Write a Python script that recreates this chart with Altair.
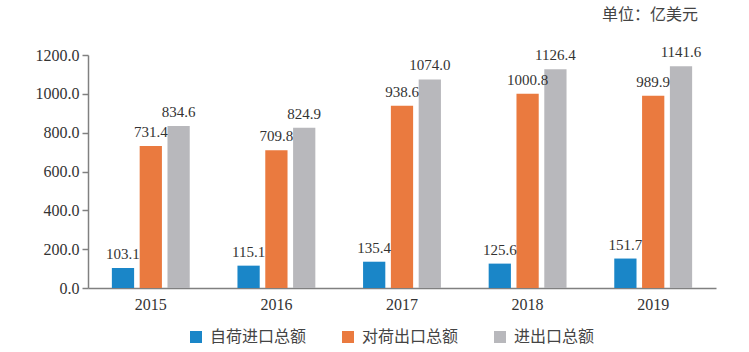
import altair as alt
import pandas as pd

years = ["2015", "2016", "2017", "2018", "2019"]
series = ["自荷进口总额", "对荷出口总额", "进出口总额"]
import_vals = [103.1, 115.1, 135.4, 125.6, 151.7]
export_vals = [731.4, 709.8, 938.6, 1000.8, 989.9]
total_vals = [834.6, 824.9, 1074.0, 1126.4, 1141.6]
y_ticks = [0, 200, 400, 600, 800, 1000, 1200]
colors = ["#1a86c8", "#ea7a3f", "#b8b8bc"]
unit_text = "单位：亿美元"

rows = []
for i, y in enumerate(years):
    for s, vals in zip(series, [import_vals, export_vals, total_vals]):
        rows.append({"year": y, "series": s, "value": vals[i]})
df = pd.DataFrame(rows)

serif = "Liberation Serif"
cjk = "Noto Sans CJK SC"

x_enc = alt.X("year:N", sort=years, title=None,
              scale=alt.Scale(paddingInner=0.38, paddingOuter=0.19),
              axis=alt.Axis(labelAngle=0, ticks=False, domainColor="#808080",
                            domainWidth=1.5, labelFont=serif, labelFontSize=16,
                            labelColor="#333333", labelPadding=8))
xo_enc = alt.XOffset("series:N", sort=series,
                     scale=alt.Scale(paddingInner=0.2, paddingOuter=0))
y_enc = alt.Y("value:Q", title=None,
              scale=alt.Scale(domain=[0, 1200], nice=False),
              axis=alt.Axis(values=y_ticks, format=".1f", tickCount=7,
                            grid=False, domainColor="#808080", domainWidth=1.5,
                            tickColor="#808080", tickSize=6, tickWidth=1.5,
                            labelFont=serif, labelFontSize=16, labelColor="#333333",
                            labelPadding=3, labelOverlap=False, labelFlush=False))

base = alt.Chart(df)
bars = base.mark_bar().encode(
    x=x_enc, xOffset=xo_enc, y=y_enc,
    color=alt.Color("series:N", sort=series,
                    scale=alt.Scale(domain=series, range=colors),
                    legend=alt.Legend(title=None, orient="none", direction="horizontal",
                                      legendX=100, legendY=274,
                                      symbolType="square", symbolSize=144,
                                      symbolStrokeWidth=0, labelFont=cjk,
                                      labelFontSize=16, labelColor="#444444",
                                      labelOffset=6, columnPadding=33)),
)
labels = base.mark_text(baseline="bottom", dy=-6, font=serif, fontSize=15,
                        color="#333333").encode(
    x=x_enc, xOffset=xo_enc, y=y_enc,
    text=alt.Text("value:Q", format=".1f"))

unit = alt.Chart(pd.DataFrame({"t": [unit_text]})).mark_text(
    align="left", baseline="middle", font=cjk, fontSize=16, color="#444444"
).encode(text="t:N", x=alt.value(514), y=alt.value(-40))

chart = alt.layer(bars, labels, unit).properties(
    width=628, height=233,
    background="white",
    autosize=alt.AutoSizeParams(type="none"),
    padding={"left": 88, "top": 55, "right": 33, "bottom": 64},
).configure_view(strokeWidth=0, stroke="transparent")

chart.save("out.html", embed_options={"renderer": "svg", "actions": False})
